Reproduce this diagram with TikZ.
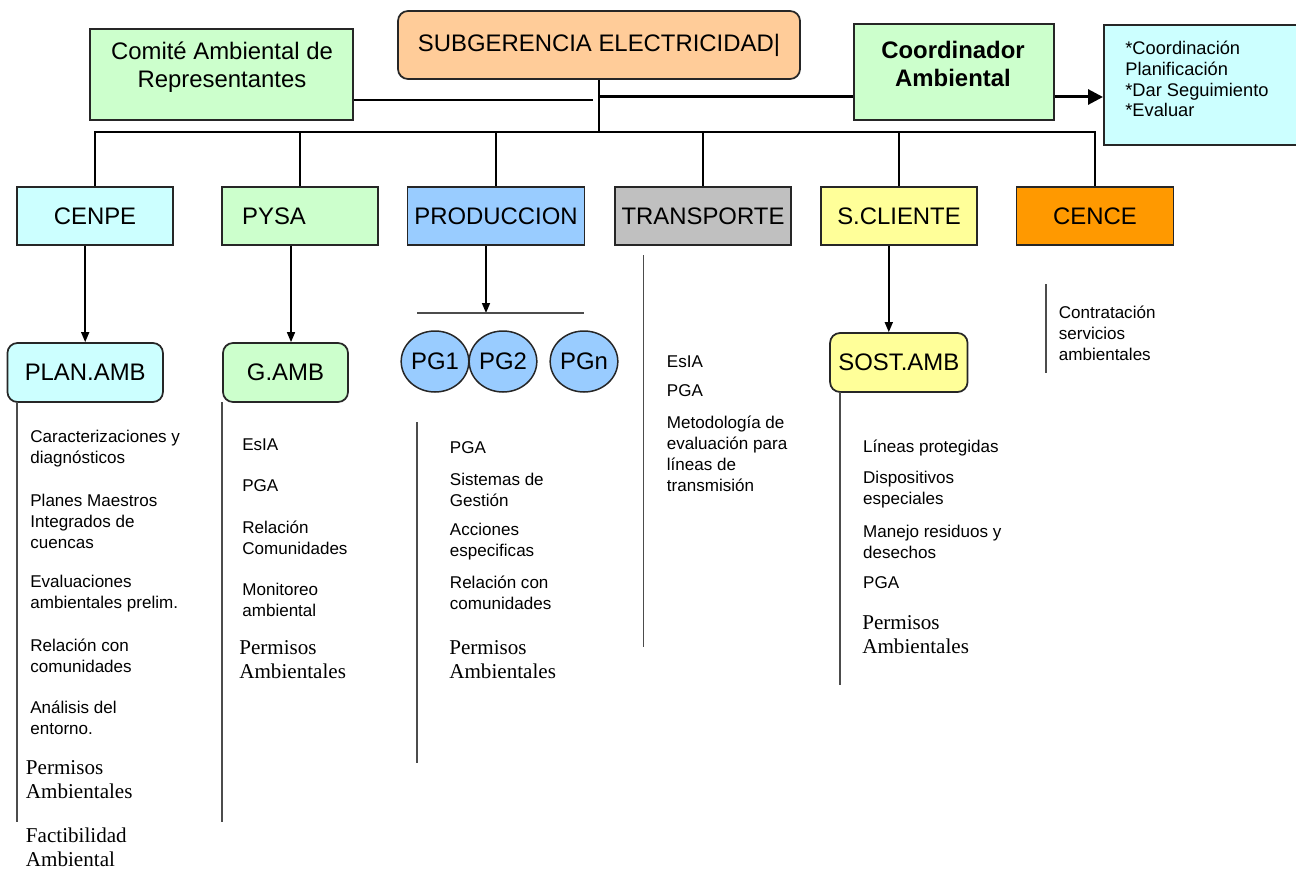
\documentclass[tikz,border=0pt]{standalone}
\usepackage{fontspec}
\setmainfont{Liberation Sans}
\newfontfamily\timesfam{Liberation Serif}
\usetikzlibrary{shapes.geometric,arrows.meta}

\definecolor{verdeclaro}{HTML}{CCFFCC}
\definecolor{celeste}{HTML}{CCFFFF}
\definecolor{durazno}{HTML}{FFCC99}
\definecolor{azul}{HTML}{99CCFF}
\definecolor{gris}{HTML}{C0C0C0}
\definecolor{amarillo}{HTML}{FFFF99}
\definecolor{naranja}{HTML}{FF9900}

\newcommand{\boxfont}{\fontsize{13.6}{16}\selectfont}
\newcommand{\listfont}{\fontsize{9.7}{11.9}\selectfont}
\newcommand{\permfont}{\timesfam\fontsize{12}{13.6}\selectfont}
\newcommand{\funcfont}{\fontsize{10.4}{11.8}\selectfont}

\begin{document}
\begin{tikzpicture}[x=0.2mm,y=-0.2mm,
  caja/.style={draw=black!85, line width=0.35mm, font=\boxfont, inner sep=0pt, minimum height=11.6mm},
  cajar/.style={caja, rounded corners=2mm},
  pg/.style={ellipse, draw=black!85, line width=0.3mm, fill=azul, inner sep=0pt, minimum width=10.8mm, minimum height=12.2mm, font=\boxfont},
  lista/.style={anchor=west, align=left, inner sep=0pt, font=\listfont},
  perm/.style={anchor=west, align=left, inner sep=0pt, font=\permfont},
  raya/.style={draw=black!70, line width=0.35mm},
  linea/.style={draw=black, line width=0.32mm},
  flecha/.style={linea, -{Triangle[length=2mm,width=1.6mm]}}]
	\clip (0,0) rectangle (1296,873);

	% nivel superior
	\node[caja, fill=verdeclaro, minimum width=52.6mm, minimum height=18.2mm] (comite) at (221.5,74.5) {};
	\node[font=\boxfont, align=center, inner sep=0pt] (comitetxt) at (222,67.5) {Comité Ambiental de\\Representantes};
	\node[cajar, fill=durazno, minimum width=80.4mm, minimum height=13.6mm] (subg) at (599,45) {SUBGERENCIA ELECTRICIDAD|};
	\node[caja, fill=verdeclaro, minimum width=40mm, minimum height=19.2mm] (coord) at (954,72) {};
	\node[font=\boxfont\bfseries, align=center, inner sep=0pt] (coordtxt) at (953,64) {Coordinador\\Ambiental};
	\node[caja, fill=celeste, minimum width=42mm, minimum height=24mm, anchor=north west] (func) at (1103,24) {};
	\node[anchor=west, align=left, inner sep=0pt, font=\funcfont] (functxt) at (1125,79) {*Coordinación\\Planificación\\*Dar Seguimiento\\*Evaluar};

	\coordinate (hub) at (599,132);
	\coordinate (eje) at (599,97);
	\coordinate (comfin) at (593,100);
	\draw[linea] (subg.south) -- (hub);
	\draw[linea] (comite.east |- comfin) -- (comfin);
	\draw[line width=0.6mm] (eje) -- (coord.west |- eje);
	\draw[line width=0.6mm, -{Triangle[length=3mm,width=3mm]}] (coord.east |- eje) -- (func.west |- eje);

	% gerencias
	\node[caja, fill=celeste, minimum width=31.2mm] (cenpe) at (95,216) {CENPE};
	\node[caja, fill=verdeclaro, minimum width=31.2mm] (pysa) at (300,216) {PYSA\hspace*{10.4mm}};
	\node[caja, fill=azul, minimum width=35.4mm] (prod) at (496,216) {PRODUCCION};
	\node[caja, fill=gris, minimum width=35.2mm] (transp) at (703,216) {TRANSPORTE};
	\node[caja, fill=amarillo, minimum width=31.2mm] (scli) at (899,216) {S.CLIENTE};
	\node[caja, fill=naranja, minimum width=31.4mm] (cence) at (1095,216) {CENCE};

	\draw[linea] (cenpe.north) |- (hub) -| (cence.north);
	\foreach \n in {pysa,prod,transp,scli}
		\draw[linea] (\n.north) -- (\n.north |- hub);

	% unidades
	\node[cajar, fill=celeste, minimum width=31.1mm, minimum height=11.8mm] (planamb) at (85.2,372.5) {PLAN.AMB};
	\node[cajar, fill=verdeclaro, minimum width=25mm, minimum height=11.8mm] (gamb) at (285.5,372.5) {G.AMB};
	\node[cajar, fill=amarillo, minimum width=27.5mm, minimum height=11.8mm] (sostamb) at (898.8,362.5) {SOST.AMB};
	\node[pg] (pg1) at (435,361.5) {PG1};
	\node[pg] (pg2) at (503,361.5) {PG2};
	\node[pg] (pgn) at (584,361.5) {PGn};

	\coordinate (gambin) at ([xshift=1.1mm]gamb.north);
	\coordinate (prodout) at ([xshift=-2mm]prod.south);
	\coordinate (sostin) at ([xshift=-2mm]sostamb.north);
	\coordinate (pbarl) at (417,313);
	\coordinate (pbarr) at (584,313);
	\draw[flecha] (planamb.north |- cenpe.south) -- (planamb.north);
	\draw[flecha] (gambin |- pysa.south) -- (gambin);
	\draw[flecha] (prodout) -- (prodout |- pbarl);
	\draw[raya] (pbarl) -- (pbarr);
	\draw[flecha] (sostin |- scli.south) -- (sostin);

	% rayas de las listas
	\draw[raya] (17,402) -- (17,822);
	\draw[raya] (222,402) -- (222,822);
	\draw[raya] (417,422) -- (417,763);
	\draw[raya] (643.5,255) -- (643.5,647);
	\draw[raya] (840,392) -- (840,685);
	\draw[raya] (1046,284) -- (1046,373);

	% PLAN.AMB
	\node[lista] (pa1) at (30,448.5) {Caracterizaciones y\\diagnósticos};
	\node[lista] (pa2) at (30,521) {Planes Maestros\\Integrados de\\cuencas};
	\node[lista] (pa3) at (30,593.5) {Evaluaciones\\ambientales prelim.};
	\node[lista] (pa4) at (30,656) {Relación con\\comunidades};
	\node[lista] (pa5) at (30,717.5) {Análisis del\\entorno.};
	\node[perm] (pa6) at (25.6,780) {Permisos\\Ambientales};
	\node[perm] (pa7) at (25.6,847) {Factibilidad\\Ambiental};

	% G.AMB
	\node[lista] (ga1) at (242,445) {EsIA};
	\node[lista] (ga2) at (242,486) {PGA};
	\node[lista] (ga3) at (242,538) {Relación\\Comunidades};
	\node[lista] (ga4) at (242,600) {Monitoreo\\ambiental};
	\node[perm] (ga5) at (239,660) {Permisos\\Ambientales};

	% PG
	\node[lista] (pr1) at (449.6,448) {PGA};
	\node[lista] (pr2) at (449.6,489.5) {Sistemas de\\Gestión};
	\node[lista] (pr3) at (449.6,542) {Acciones\\especificas};
	\node[lista] (pr4) at (449.6,593) {Relación con\\comunidades};
	\node[perm] (pr5) at (449,660) {Permisos\\Ambientales};

	% TRANSPORTE
	\node[lista] (tr1) at (666.6,362) {EsIA};
	\node[lista] (tr2) at (666.6,391) {PGA};
	\node[lista] (tr3) at (666.6,453.5) {Metodología de\\evaluación para\\líneas de\\transmisión};

	% SOST.AMB
	\node[lista] (sa1) at (862.8,448) {Líneas protegidas};
	\node[lista] (sa2) at (862.8,489.5) {Dispositivos\\especiales};
	\node[lista] (sa3) at (862.8,542) {Manejo residuos y\\desechos};
	\node[lista] (sa4) at (862.8,583) {PGA};
	\node[perm] (sa5) at (862,635) {Permisos\\Ambientales};

	% CENCE
	\node[lista] (ce1) at (1058.5,333) {Contratación\\servicios\\ambientales};
\end{tikzpicture}
\end{document}
